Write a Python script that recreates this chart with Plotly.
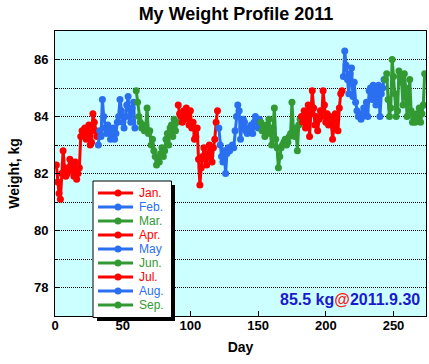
import plotly.graph_objects as go

months = ["Jan.", "Feb.", "Mar.", "Apr.", "May", "Jun.", "Jul.", "Aug.", "Sep."]
month_colors = ["#ff0000", "#2a6ff0", "#339933", "#ff0000", "#2a6ff0", "#339933", "#ff0000", "#2a6ff0", "#339933"]

jan = [82.3, 81.7, 81.3, 81.1, 82.0, 82.8, 82.2, 81.9, 82.0, 82.2, 82.5, 82.1, 82.3, 81.9, 82.4, 81.8,
       82.0, 82.2, 83.3, 83.5, 83.4, 83.6, 83.2, 83.5, 83.7, 83.0, 83.1, 84.1, 83.8, 83.5, 83.3]
feb = [83.0, 83.5, 83.3, 84.6, 84.0, 83.6, 83.4, 83.7, 83.5, 83.2, 83.3, 83.6, 83.2, 83.4, 83.8, 84.0,
       84.6, 84.2, 83.8, 83.6, 84.0, 84.4, 84.7, 84.0, 83.8, 84.3, 84.5, 83.6]
mar = [84.9, 84.5, 84.0, 83.8, 83.6, 83.7, 83.5, 83.6, 84.3, 83.4, 83.5, 83.0, 83.2, 82.8, 82.6, 82.3,
       82.5, 82.4, 82.7, 82.9, 82.6, 82.8, 83.2, 83.4, 83.0, 83.6, 83.7, 83.3, 83.9, 83.5, 83.8]
apr = [84.4, 84.1, 84.0, 83.8, 84.2, 83.9, 84.3, 84.0, 83.7, 84.2, 83.6, 83.8, 83.2, 83.3, 83.6, 82.5,
       81.6, 82.2, 82.6, 82.9, 82.5, 82.3, 82.7, 83.0, 82.6, 82.4, 82.9, 83.2, 83.8, 84.2]
may = [83.6, 83.0, 82.6, 82.4, 82.8, 82.0, 82.7, 82.9, 82.8, 82.9, 83.0, 82.9, 83.5, 84.0, 84.4, 84.2,
       83.2, 83.6, 83.9, 83.8, 83.5, 83.4, 83.6, 83.5, 83.7, 83.4, 83.8, 84.0, 83.9, 83.6, 83.9]
jun = [83.8, 83.5, 83.6, 83.3, 83.7, 83.4, 83.9, 83.5, 83.0, 83.6, 84.3, 83.2, 82.9, 82.2, 82.6, 82.9,
       83.0, 83.1, 83.2, 83.0, 83.1, 83.3, 83.4, 84.5, 83.6, 83.3, 83.5, 82.8, 83.7, 83.9]
jul = [84.0, 83.8, 84.2, 83.6, 83.9, 84.4, 83.3, 84.1, 84.9, 84.3, 83.7, 84.0, 83.5, 83.9, 84.2, 84.0,
       84.9, 84.4, 83.8, 84.1, 83.7, 84.0, 83.9, 83.2, 83.6, 84.1, 83.9, 83.5, 84.3, 84.8, 84.9]
aug = [85.4, 86.3, 85.8, 85.3, 84.8, 85.5, 85.7, 84.7, 85.2, 84.5, 84.2, 84.0, 84.1, 83.9, 84.0, 84.3,
       84.1, 84.5, 84.0, 84.9, 85.0, 84.6, 85.1, 84.8, 84.4, 84.9, 85.1, 84.0, 84.8, 85.0, 85.3]
sep = [85.3, 85.5, 84.6, 84.0, 84.3, 86.0, 85.4, 84.8, 84.0, 84.2, 85.6, 85.4, 85.2, 84.4, 85.5, 85.0,
       84.0, 84.6, 85.3, 84.2, 83.8, 84.0, 83.8, 84.1, 83.9, 84.3, 83.8, 84.1, 84.4, 85.5]
series = [jan, feb, mar, apr, may, jun, jul, aug, sep]

x_ticks = [0, 50, 100, 150, 200, 250]
y_ticks = [78, 80, 82, 84, 86]

W, H = 429, 364
L, R, T, B = 55, 426, 31, 316

def px(x):
    return (x - L) / (R - L)

def py(y):
    return (B - y) / (B - T)

fig = go.Figure()
start = 1
for name, vals, col in zip(months, series, month_colors):
    days = list(range(start, start + len(vals)))
    start += len(vals)
    fig.add_trace(go.Scatter(x=days, y=vals, mode="lines+markers", name=name,
                             line=dict(color=col, width=3),
                             marker=dict(color=col, size=7), showlegend=False))

shapes = []
# legend shadow and box
shapes.append(dict(type="rect", xref="paper", yref="paper", layer="above",
                   x0=px(97), x1=px(175), y0=py(321), y1=py(185),
                   fillcolor="black", line=dict(width=0)))
shapes.append(dict(type="rect", xref="paper", yref="paper", layer="above",
                   x0=px(93), x1=px(171.5), y0=py(317.5), y1=py(181),
                   fillcolor="white", line=dict(color="black", width=1)))
annotations = []
for i, (name, col) in enumerate(zip(months, month_colors)):
    yy = 193 + i * 14
    shapes.append(dict(type="line", xref="paper", yref="paper", layer="above",
                       x0=px(98), x1=px(133), y0=py(yy), y1=py(yy),
                       line=dict(color=col, width=3)))
    shapes.append(dict(type="circle", xref="paper", yref="paper", layer="above",
                       xsizemode="pixel", ysizemode="pixel",
                       xanchor=px(118), yanchor=py(yy),
                       x0=-3.5, x1=3.5, y0=-3.5, y1=3.5,
                       fillcolor=col, line=dict(color=col, width=0)))
    annotations.append(dict(xref="paper", yref="paper", x=px(137), y=py(yy),
                            xanchor="left", yanchor="middle", showarrow=False,
                            text=name, font=dict(family="Liberation Sans, Arial", size=12, color=col)))

annotations.append(dict(xref="paper", yref="paper", x=px(422), y=py(299),
                        xanchor="right", yanchor="middle", showarrow=False,
                        text="<b><span style='color:#1a1acc'>85.5 kg</span><span style='color:#ff2020'>@</span><span style='color:#1a1acc'>2011.9.30</span></b>",
                        font=dict(family="Liberation Sans, Arial", size=16)))

fig.update_layout(
    width=W, height=H,
    margin=dict(l=L, r=W - R, t=T, b=H - B),
    paper_bgcolor="white", plot_bgcolor="#ccffff",
    font=dict(family="Liberation Sans, Arial", size=13, color="black"),
    title=dict(text="<b>My Weight Profile 2011</b>", x=236 / W, xanchor="center",
               y=1 - 14 / H, yanchor="middle", font=dict(size=18, color="black")),
    shapes=shapes, annotations=annotations, showlegend=False,
)
fig.update_xaxes(range=[0, 274], tickvals=x_ticks, ticktext=[f"<b>{v}</b>" for v in x_ticks],
                 ticks="inside", ticklen=5, tickcolor="black", showgrid=False, zeroline=False,
                 ticklabelstandoff=-3,
                 showline=True, linecolor="black", linewidth=1, mirror=True,
                 title=dict(text="<b>Day</b>", standoff=10, font=dict(size=14)))
fig.update_yaxes(range=[77, 87], tickvals=y_ticks, ticktext=[f"<b>{v}</b>" for v in y_ticks],
                 ticks="inside", ticklen=5, tickcolor="black", zeroline=False,
                 ticklabelstandoff=3,
                 showgrid=True, gridcolor="black", gridwidth=1, griddash="1px,1px",
                 minor=dict(dtick=1, tick0=77, showgrid=True, gridcolor="black", gridwidth=1,
                            griddash="1px,1px", ticks="inside", ticklen=3, tickcolor="black"),
                 showline=True, linecolor="black", linewidth=1, mirror=True,
                 title=dict(text="<b>Weight, kg</b>", standoff=11, font=dict(size=14)))

fig.write_html("out.html", config={"displayModeBar": False},
               post_script="document.body.style.margin='0px';")
